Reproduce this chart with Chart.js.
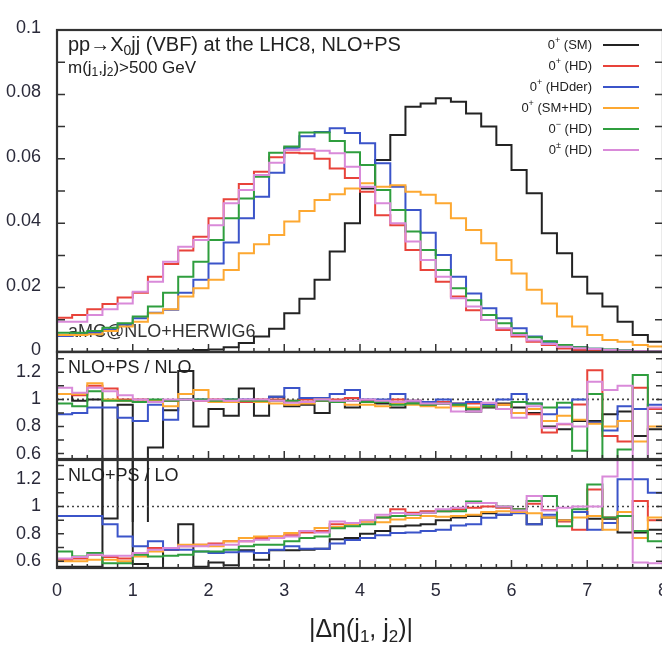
<!DOCTYPE html>
<html>
<head>
<meta charset="utf-8">
<script src="https://cdn.jsdelivr.net/npm/chart.js@4.4.1/dist/chart.umd.min.js"></script>
<style>
  html, body { margin: 0; padding: 0; background: #fff; overflow: hidden; }
  #wrap { position: relative; width: 662px; height: 645px; overflow: hidden; background: #fff; }
  #wrap canvas { position: absolute; left: 0; }
</style>
</head>
<body>
<div id="wrap">
  <canvas id="c_main"></canvas>
  <canvas id="c_nlo"></canvas>
  <canvas id="c_lo"></canvas>
</div>
<script>
// bin edges of the |Δη(j1,j2)| histograms (width 0.2)
const BIN_EDGES = [0, 0.2, 0.4, 0.6, 0.8, 1, 1.2, 1.4, 1.6, 1.8, 2, 2.2, 2.4, 2.6, 2.8, 3, 3.2, 3.4, 3.6, 3.8,
                   4, 4.2, 4.4, 4.6, 4.8, 5, 5.2, 5.4, 5.6, 5.8, 6, 6.2, 6.4, 6.6, 6.8, 7, 7.2, 7.4, 7.6, 7.8, 8];

// normalised distributions, NLO+PS
const mainSM    = [0.0001,0.0001,0.0001,0.0002,0.0002,0.0002,0.0003,0.0004,0.0005,0.0006,0.0008,0.0015,0.0028,0.0048,0.0072,0.0120,0.0165,0.0224,0.0312,0.0400,
                   0.0508,0.0596,0.0674,0.0762,0.0772,0.0788,0.0777,0.0741,0.0700,0.0643,0.0565,0.0493,0.0369,0.0307,0.0234,0.0182,0.0141,0.0094,0.0053,0.0032];
const mainHD    = [0.0106,0.0115,0.0133,0.0149,0.0169,0.0184,0.0234,0.0273,0.0315,0.0358,0.0415,0.0474,0.0522,0.0560,0.0605,0.0619,0.0617,0.0600,0.0570,0.0540,
                   0.0498,0.0425,0.0394,0.0317,0.0255,0.0218,0.0172,0.0130,0.0099,0.0068,0.0048,0.0032,0.0022,0.0011,0.0006,0.0005,0.0004,0.0003,0.0002,0.0002];
const mainHDder = [0.0050,0.0055,0.0060,0.0070,0.0085,0.0105,0.0122,0.0131,0.0184,0.0224,0.0275,0.0340,0.0415,0.0482,0.0557,0.0634,0.0670,0.0683,0.0695,0.0680,
                   0.0648,0.0586,0.0513,0.0441,0.0370,0.0301,0.0234,0.0182,0.0136,0.0105,0.0074,0.0048,0.0032,0.0022,0.0015,0.0010,0.0007,0.0005,0.0003,0.0002];
const mainSMHD  = [0.0053,0.0053,0.0055,0.0065,0.0079,0.0094,0.0120,0.0133,0.0172,0.0198,0.0224,0.0255,0.0307,0.0335,0.0363,0.0405,0.0438,0.0472,0.0490,0.0508,
                   0.0524,0.0513,0.0518,0.0498,0.0488,0.0462,0.0415,0.0379,0.0338,0.0286,0.0244,0.0193,0.0151,0.0110,0.0079,0.0053,0.0037,0.0032,0.0022,0.0017];
const mainOdd   = [0.0060,0.0060,0.0065,0.0075,0.0089,0.0110,0.0141,0.0184,0.0234,0.0280,0.0348,0.0415,0.0477,0.0544,0.0619,0.0638,0.0682,0.0682,0.0655,0.0620,
                   0.0581,0.0503,0.0441,0.0374,0.0317,0.0255,0.0198,0.0161,0.0115,0.0089,0.0058,0.0046,0.0033,0.0022,0.0015,0.0010,0.0008,0.0005,0.0003,0.0002];
const mainMix   = [0.0094,0.0094,0.0115,0.0133,0.0151,0.0187,0.0218,0.0280,0.0327,0.0348,0.0394,0.0462,0.0503,0.0550,0.0588,0.0627,0.0630,0.0625,0.0617,0.0575,
                   0.0513,0.0462,0.0400,0.0343,0.0286,0.0234,0.0167,0.0141,0.0099,0.0074,0.0053,0.0036,0.0025,0.0016,0.0012,0.0009,0.0006,0.0004,0.0003,0.0002];

// ratio NLO+PS / NLO
const nloSM    = [1.04,0.99,1.00,0.12,0.96,-0.20,0.645,0.92,1.21,0.80,0.93,0.88,1.08,0.88,1.02,0.95,0.96,0.90,0.98,0.94,
                  0.98,0.97,0.94,0.97,0.96,0.97,0.96,0.91,0.94,0.97,0.94,0.90,0.80,0.78,0.84,0.84,0.89,0.91,0.73,0.78];
const nloHD    = [1.04,1.03,1.10,1.08,1.00,1.00,0.98,0.99,1.00,0.99,1.00,0.99,0.98,1.00,1.00,0.99,1.00,0.99,1.00,1.01,
                  0.99,0.98,1.00,0.99,0.98,0.98,0.97,0.97,0.96,0.96,0.90,0.89,0.755,0.816,0.963,1.216,0.73,0.69,1.086,0.93];
const nloHDder = [0.89,0.90,0.94,0.94,0.865,0.84,0.96,0.85,1.00,1.00,0.99,1.00,1.00,0.98,1.02,1.085,1.01,1.01,1.04,1.07,
                  1.00,1.00,1.04,0.99,0.98,1.00,0.97,0.98,0.96,1.00,1.04,0.97,0.89,0.94,1.00,0.83,0.77,0.95,0.93,0.96];
const nloSMHD  = [1.04,1.04,1.12,1.00,0.99,0.98,0.99,0.95,1.04,1.07,0.98,0.98,0.99,0.98,0.97,0.96,0.97,1.00,0.98,0.96,
                  0.96,0.95,0.97,0.96,0.95,0.94,0.95,0.94,0.95,0.96,0.90,0.93,0.84,0.88,0.85,0.82,0.80,0.84,0.69,0.80];
const nloOdd   = [0.97,0.95,1.06,0.99,0.99,0.98,1.00,0.99,1.00,1.00,0.99,1.00,0.99,0.99,0.99,0.99,0.98,0.99,0.98,0.99,
                  0.98,0.98,0.96,0.97,0.96,0.97,0.96,0.93,0.95,0.93,0.98,0.97,0.94,0.975,0.62,1.04,0.50,0.63,1.18,0.50];
const nloMix   = [1.086,1.05,1.086,1.06,1.03,1.00,0.98,1.00,1.00,0.99,1.00,0.99,1.00,1.00,0.99,0.975,0.98,1.00,0.99,0.99,
                  1.00,0.99,0.98,0.99,0.97,0.97,0.91,0.91,0.975,0.93,0.865,0.95,0.79,0.82,0.80,1.13,1.07,1.10,0.30,0.94];

// ratio NLO+PS / LO
const loSM    = [0.56,0.56,0.56,2.00,2.00,0.58,0.55,0.684,0.87,0.56,0.59,0.57,0.68,0.61,0.68,0.68,0.684,0.69,0.76,0.77,
                 0.80,0.82,0.855,0.86,0.87,0.90,0.92,0.93,0.95,0.94,0.96,0.87,0.92,0.90,0.96,0.91,0.91,0.81,0.81,0.83];
const loHD    = [0.61,0.62,0.645,0.63,0.62,0.66,0.696,0.684,0.71,0.72,0.73,0.745,0.745,0.77,0.78,0.79,0.81,0.82,0.87,0.87,
                 0.89,0.92,0.98,0.955,0.965,0.965,0.98,0.99,1.00,0.99,0.98,1.02,0.975,0.89,0.83,1.125,0.92,0.93,1.04,0.90];
const loHDder = [0.93,0.93,0.93,0.87,0.78,0.71,0.745,0.684,0.684,0.67,0.66,0.665,0.67,0.66,0.684,0.71,0.69,0.69,0.73,0.755,
                 0.77,0.79,0.806,0.81,0.82,0.83,0.86,0.87,0.917,0.94,0.95,0.87,0.94,0.90,0.96,0.83,0.88,1.20,1.20,1.10];
const loSMHD  = [0.60,0.60,0.61,0.61,0.60,0.635,0.67,0.696,0.72,0.72,0.71,0.745,0.77,0.78,0.78,0.806,0.82,0.843,0.85,0.868,
                 0.89,0.885,0.904,0.915,0.93,0.925,0.93,0.94,0.96,0.965,0.96,0.95,0.92,0.90,0.92,0.93,0.83,0.96,0.77,0.92];
const loOdd   = [0.67,0.635,0.66,0.585,0.585,0.647,0.635,0.64,0.647,0.67,0.67,0.684,0.71,0.72,0.72,0.745,0.77,0.78,0.84,0.855,
                 0.87,0.92,0.93,0.94,0.955,0.965,0.965,1.036,1.025,1.00,0.98,1.04,1.076,0.855,0.98,1.16,0.92,0.93,0.82,0.745];
const loMix   = [0.62,0.63,0.647,0.64,0.64,0.66,0.684,0.696,0.71,0.71,0.72,0.72,0.745,0.757,0.77,0.78,0.82,0.81,0.89,0.88,
                 0.90,0.94,0.953,0.945,0.955,0.98,0.99,1.025,1.025,1.00,0.97,1.076,0.97,0.99,1.00,1.00,1.22,2.00,0.59,0.585];

// legend entries: [base, superscript, rest]
const SERIES_LABELS = [['0', '+', ' (SM)'], ['0', '+', ' (HD)'], ['0', '+', ' (HDder)'],
                       ['0', '+', ' (SM+HD)'], ['0', '\u2212', ' (HD)'], ['0', '\u00b1', ' (HD)']];
const SERIES_COLORS = ['#232323', '#e8433a', '#3b54c9', '#fda831', '#2f9e3e', '#d98ad9'];

const FONT = "'Liberation Sans', Arial, Helvetica, sans-serif";
const TEXT = '#222';
const LEFT_AXIS = 57;
const CANVAS_W = 680;

// step histogram: one point per lower edge plus the closing upper edge
function histPoints(values) {
    const pts = values.map((v, i) => ({ x: BIN_EDGES[i], y: v }));
    pts.push({ x: BIN_EDGES[values.length], y: values[values.length - 1] });
    return pts;
}

// text with sub/superscript pieces, parts = [[str, 'n'|'sub'|'sup'], ...]
function drawRich(ctx, x, y, parts, size, align) {
    const widths = parts.map(([s, k]) => {
        ctx.font = (k === 'n' ? size : Math.round(size * 0.68)) + 'px ' + FONT;
        return ctx.measureText(s).width;
    });
    const total = widths.reduce((a, b) => a + b, 0);
    let cx = align === 'right' ? x - total : align === 'center' ? x - total / 2 : x;
    ctx.textBaseline = 'middle';
    ctx.textAlign = 'left';
    parts.forEach(([s, k], i) => {
        ctx.font = (k === 'n' ? size : Math.round(size * 0.68)) + 'px ' + FONT;
        const dy = k === 'sub' ? size * 0.3 : k === 'sup' ? -size * 0.35 : 0;
        ctx.fillText(s, cx, y + dy);
        cx += widths[i];
    });
}

function frameTicks(yStep, yLen) {
    return {
        id: 'frameTicks',
        afterDatasetsDraw(chart) {
            const { ctx, chartArea: a, scales: { x, y } } = chart;
            ctx.save();
            ctx.strokeStyle = '#333';
            ctx.lineWidth = 1.5;
            ctx.beginPath();
            for (let i = 0; i <= 40; i++) {
                const px = x.getPixelForValue(i * 0.2);
                const len = i % 5 === 0 ? 8 : 4;
                ctx.moveTo(px, a.bottom);
                ctx.lineTo(px, a.bottom - len);
            }
            const start = Math.ceil(y.min / yStep - 1e-6);
            for (let k = start; k * yStep <= y.max + 1e-9; k++) {
                const py = y.getPixelForValue(k * yStep);
                ctx.moveTo(a.left, py); ctx.lineTo(a.left + yLen, py);
                ctx.moveTo(a.right, py); ctx.lineTo(a.right - yLen, py);
            }
            ctx.stroke();
            ctx.lineWidth = 2.2;
            ctx.strokeRect(a.left, a.top, a.right - a.left, a.bottom - a.top);
            ctx.restore();
        }
    };
}

// dotted reference line at ratio = 1
const unityLine = {
    id: 'unityLine',
    beforeDatasetsDraw(chart) {
        const { ctx, chartArea: a, scales: { y } } = chart;
        const py = y.getPixelForValue(1);
        ctx.save();
        ctx.strokeStyle = '#444';
        ctx.lineWidth = 1.6;
        ctx.setLineDash([2, 3]);
        ctx.beginPath();
        ctx.moveTo(a.left, py);
        ctx.lineTo(a.right, py);
        ctx.stroke();
        ctx.restore();
    }
};

function panelLabel(text) {
    return {
        id: 'panelLabel',
        afterDatasetsDraw(chart) {
            const { ctx, chartArea: a } = chart;
            ctx.save();
            ctx.fillStyle = TEXT;
            drawRich(ctx, a.left + 11, a.top + 16, [[text, 'n']], 18, 'left');
            ctx.restore();
        }
    };
}

const mainText = {
    id: 'mainText',
    beforeDatasetsDraw(chart) {
        const { ctx, chartArea: a } = chart;
        ctx.save();
        ctx.fillStyle = '#333';
        drawRich(ctx, a.left + 11, a.bottom - 20, [['aMC@NLO+HERWIG6', 'n']], 18, 'left');
        ctx.restore();
    },
    afterDraw(chart) {
        const { ctx, chartArea: a } = chart;
        ctx.save();
        ctx.fillStyle = TEXT;
        drawRich(ctx, a.left + 11, a.top + 15,
            [['pp\u2192X', 'n'], ['0', 'sub'], ['jj (VBF) at the LHC8, NLO+PS', 'n']], 20, 'left');
        drawRich(ctx, a.left + 11, a.top + 38,
            [['m(j', 'n'], ['1', 'sub'], [',j', 'n'], ['2', 'sub'], [')>500 GeV', 'n']], 17, 'left');
        // legend
        SERIES_LABELS.forEach((lab, i) => {
            const ly = a.top + 15 + i * 21;
            ctx.fillStyle = TEXT;
            drawRich(ctx, 592, ly, [[lab[0], 'n'], [lab[1], 'sup'], [lab[2], 'n']], 13, 'right');
            ctx.strokeStyle = SERIES_COLORS[i];
            ctx.lineWidth = 2;
            ctx.beginPath();
            ctx.moveTo(603, ly);
            ctx.lineTo(639, ly);
            ctx.stroke();
        });
        ctx.restore();
    }
};

const axisTitle = {
    id: 'axisTitle',
    afterDraw(chart) {
        const { ctx, chartArea: a } = chart;
        ctx.save();
        ctx.fillStyle = TEXT;
        drawRich(ctx, 361, a.bottom + 62,
            [['|\u0394\u03b7(j', 'n'], ['1', 'sub'], [', j', 'n'], ['2', 'sub'], [')|', 'n']], 25, 'center');
        ctx.restore();
    }
};

function makePanel(id, top, height, pad, series, yCfg, plugins, showX, extraClip) {
    const canvas = document.getElementById(id);
    canvas.width = CANVAS_W;
    canvas.height = height;
    canvas.style.top = top + 'px';

    const datasets = series.map((vals, i) => ({
        label: SERIES_LABELS[i].join(''),
        data: histPoints(vals),
        stepped: 'before',
        borderColor: SERIES_COLORS[i],
        borderWidth: 2,
        pointRadius: 0,
        fill: false,
        order: series.length - i,
        // the SM ratio runs out of its panel at low |Δη| and is allowed to spill below it
        clip: extraClip && i === 0 ? { left: 1, top: 1, right: 1, bottom: extraClip } : undefined
    }));

    const xAxis = {
        type: 'linear', min: 0, max: 8,
        display: showX,
        grid: { display: false, drawTicks: false },
        border: { display: false },
        ticks: { display: showX, stepSize: 1, autoSkip: false, maxRotation: 0, padding: 12,
                 font: { family: FONT, size: 18 }, color: '#2a2a3a' },
        afterFit: s => { s.height = showX ? 77 : 0; }
    };

    return new Chart(canvas, {
        type: 'line',
        data: { datasets },
        options: {
            responsive: false,
            animation: false,
            events: [],
            layout: { padding: { left: 0, right: CANVAS_W - 663, top: pad.top, bottom: pad.bottom } },
            plugins: { legend: { display: false }, tooltip: { enabled: false } },
            scales: {
                x: xAxis,
                y: {
                    min: yCfg.min, max: yCfg.max,
                    // tick marks are drawn by frameTicks; tickLength only spaces the labels
                    grid: { display: false, drawTicks: true, tickLength: 16 },
                    border: { display: false },
                    ticks: {
                        stepSize: yCfg.step, includeBounds: false, autoSkip: false,
                        padding: 0, labelOffset: yCfg.offset,
                        font: { family: FONT, size: 18 }, color: '#2a2a3a',
                        callback: v => String(+v.toFixed(yCfg.digits))
                    },
                    afterFit: s => { s.width = LEFT_AXIS; }
                }
            }
        },
        plugins
    });
}

makePanel('c_main', 0, 363, { top: 30, bottom: 11 },
    [mainSM, mainHD, mainHDder, mainSMHD, mainOdd, mainMix],
    { min: 0, max: 0.1, step: 0.02, digits: 2, offset: -2 },
    [frameTicks(0.01, 8), mainText], false);

makePanel('c_nlo', 340, 240, { top: 12, bottom: 121 },
    [nloSM, nloHD, nloHDder, nloSMHD, nloOdd, nloMix],
    { min: 0.56, max: 1.35, step: 0.2, digits: 1, offset: 0 },
    [unityLine, frameTicks(0.1, 7), panelLabel('NLO+PS / NLO')], false, 63);

makePanel('c_lo', 449, 196, { top: 11, bottom: 0 },
    [loSM, loHD, loHDder, loSMHD, loOdd, loMix],
    { min: 0.55, max: 1.34, step: 0.2, digits: 1, offset: 0 },
    [unityLine, frameTicks(0.1, 7), panelLabel('NLO+PS / LO'), axisTitle], true);
</script>
</body>
</html>
